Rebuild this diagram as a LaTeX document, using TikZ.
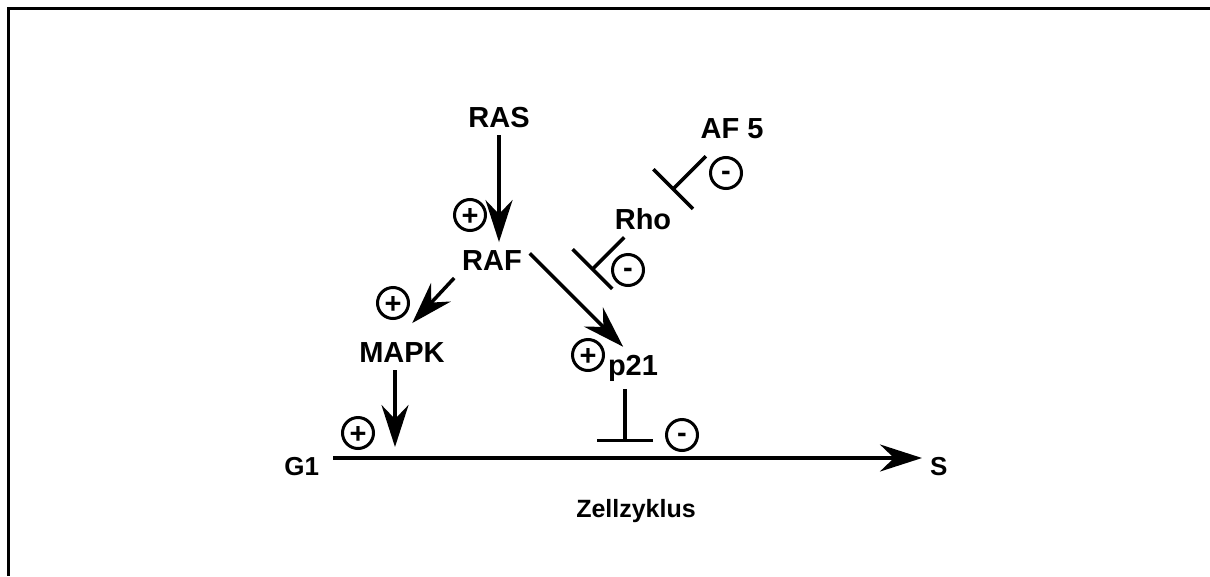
\documentclass[tikz,border=0pt]{standalone}
\usepackage{fontspec}
\setmainfont{Liberation Sans}
\usetikzlibrary{arrows.meta, positioning, calc}

\tikzset{
  lbl/.style={font=\fontsize{29}{33}\selectfont\bfseries, inner sep=0pt,
              outer sep=8pt, anchor=base},
  act/.style={line width=3.5pt, -{Stealth[length=42pt, width=27pt, inset=14pt]}},
  inh/.style={line width=3.5pt, -{Bar[width=56pt]}},
  sign/.style={circle, draw, line width=3pt, minimum size=31pt, inner sep=0pt,
               font=\fontsize{29}{29}\selectfont\bfseries, text depth=0pt},
  plussign/.style={sign, text height=20.6pt},
  minussign/.style={sign, text height=15pt}
}

\begin{document}
\begin{tikzpicture}[x=1pt, y=-1pt, >=Stealth]
  \useasboundingbox (0,0) rectangle (1210,576);
  % Frame (cut at right and bottom)
  \draw[line width=3pt] (1210,8) -- (8,8) -- (8,576);

  % Proteins
  \node[lbl] (ras)  at (499,127) {RAS};
  \node[lbl] (raf)  at (492,270) {RAF};
  \node[lbl] (rho)  at (643,229) {Rho};
  \node[lbl] (af5)  at (732,138) {AF 5};
  \node[lbl] (mapk) at (402,362) {MAPK};
  \node[lbl] (ptw)  at (633,375) {p21};

  % Cell cycle
  \coordinate (ax) at (0,458);
  \node[lbl, font=\fontsize{26}{30}\selectfont\bfseries, anchor=base east]
    (gone) at (327,475) {G1};
  \node[lbl, font=\fontsize{26}{30}\selectfont\bfseries, anchor=base west]
    (sph) at (922,475) {S};
  \node[lbl, font=\fontsize{25}{30}\selectfont\bfseries]
    (zz) at (636,517) {Zellzyklus};
  \draw[act, shorten <=6pt] (gone.east |- ax) -- (sph.west |- ax);

  % Activations
  \draw[act] (ras.south) -- (ras.south |- raf.north);
  \draw[act, shorten >=15pt] (raf.south west) -- (mapk.north);
  \draw[act] (raf.10) -- (ptw.115);
  \coordinate (mk) at ([xshift=-7pt]mapk.south);
  \draw[act, shorten >=11pt] (mk) -- (mk |- ax);

  % Inhibitions
  \draw[inh] ([xshift=-8pt, yshift=-10pt]af5.225) -- ++(-34,34);
  \draw[inh] ([xshift=-8pt]rho.240) -- ++(-33,33);
  \coordinate (pk) at ([xshift=-8pt]ptw.south);
  \draw[inh, shorten >=16pt] (pk) -- (pk |- ax);

  % Signs
  \foreach \n/\x/\y/\st/\s in {plusras/470/215/plussign/+,
      plusmapk/393/303/plussign/+, plusgone/358/433/plussign/+,
      plusptw/588/355/plussign/+, minusaf/726/173/minussign/-,
      minusrho/628/270/minussign/-, minusptw/682/435/minussign/-}
    \node[\st] (\n) at (\x,\y) {\s};
\end{tikzpicture}
\end{document}
